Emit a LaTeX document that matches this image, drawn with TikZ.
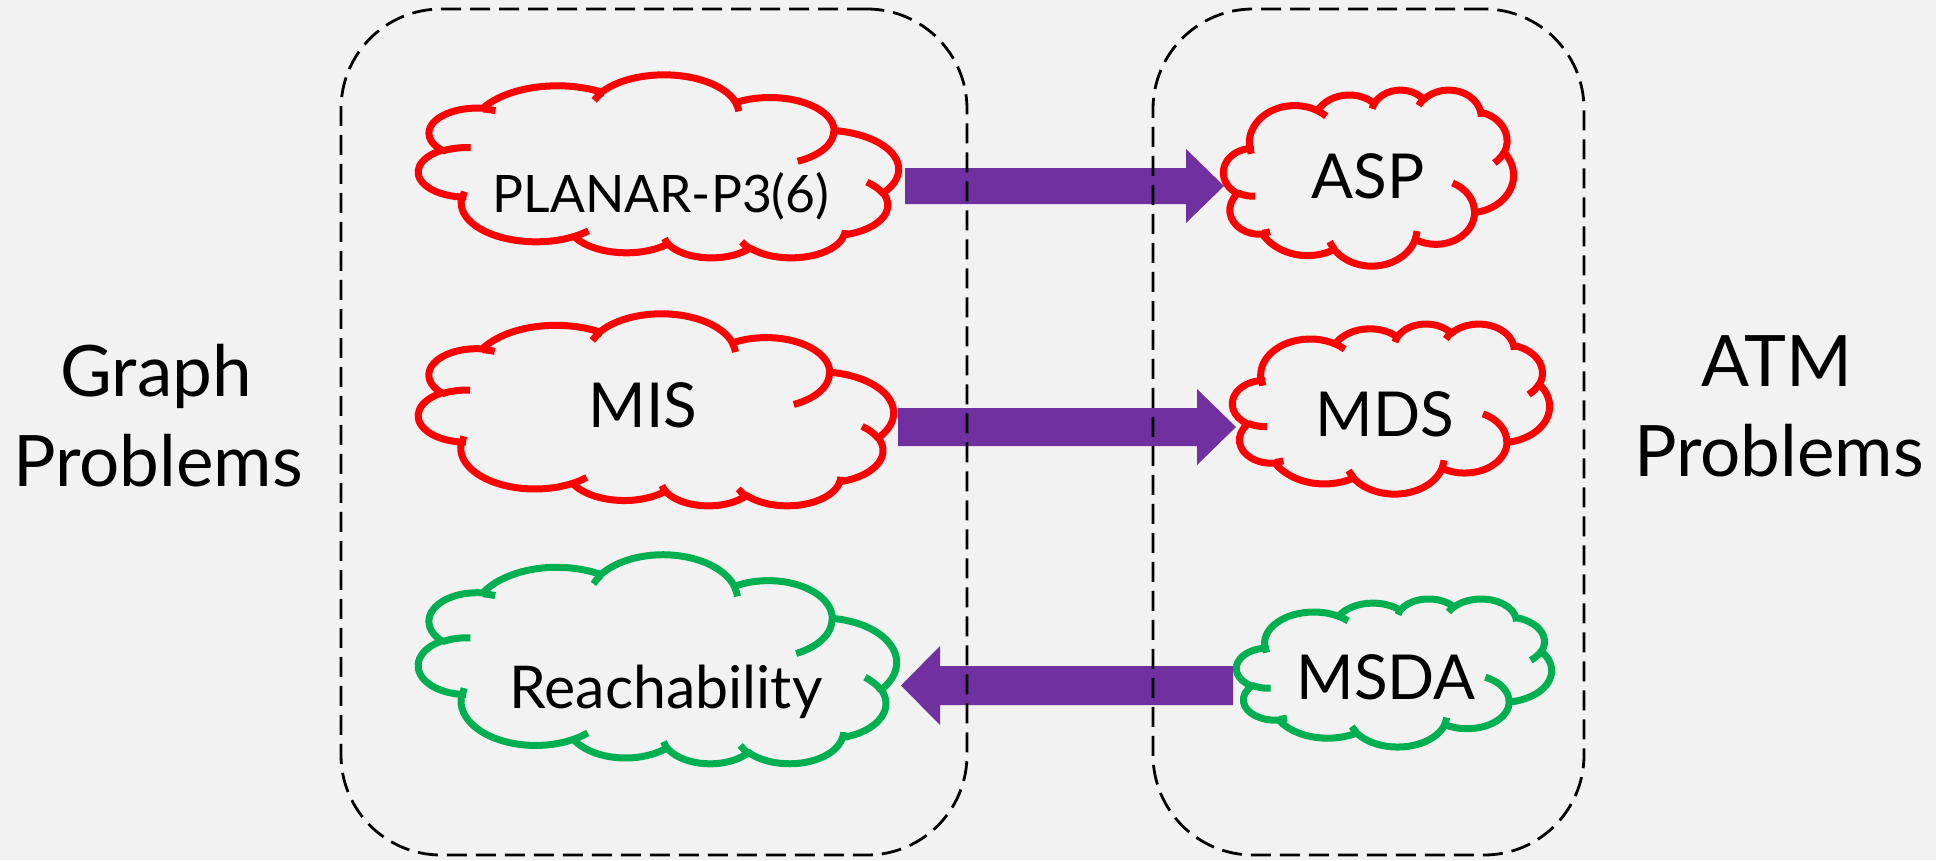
\documentclass[tikz,border=0pt]{standalone}
\usepackage{fontspec}
\setmainfont{Lato}
\usetikzlibrary{calc}

\definecolor{pagebg}{HTML}{F2F2F2}
\definecolor{probred}{HTML}{FF0000}
\definecolor{probgreen}{HTML}{00B050}
\definecolor{arrowpurple}{HTML}{7030A0}

% Elliptic arc of the cloud outline: the angles are given as true (polar)
% angles and are turned here into the parametric angles TikZ expects.
% #1 key name, #2 x radius, #3 y radius, #4 start angle, #5 sweep
\newcommand\defcloudarc[5]{%
  \pgfmathsetmacro\cloudS{atan2((#2)*sin(#4),(#3)*cos(#4))}%
  \pgfmathsetmacro\cloudE{atan2((#2)*sin((#4)+(#5)),(#3)*cos((#4)+(#5)))}%
  \pgfmathsetmacro\cloudD{\cloudE-\cloudS}%
  \pgfmathsetmacro\cloudD{\cloudD+360*round(((#5)-\cloudD)/360)}%
  \tikzset{#1/.estyle={start angle=\cloudS, delta angle=\cloudD,
                       x radius=#2, y radius=#3}}%
}
% outline lobes
\defcloudarc{ca1}{67.53}{91.90}{-190.4875}{123.7805}
\defcloudarc{ca2}{53.33}{72.67}{-144.1024}{89.9452}
\defcloudarc{ca3}{43.65}{59.45}{-145.8079}{99.7230}
\defcloudarc{ca4}{48.57}{65.95}{-130.9861}{117.2417}
\defcloudarc{ca5}{53.33}{72.73}{-78.7089}{109.0269}
\defcloudarc{ca6}{67.75}{92.20}{-46.2673}{130.2690}
\defcloudarc{ca7}{57.85}{78.67}{0.6250}{114.0333}
\defcloudarc{ca8}{67.52}{92.15}{22.4516}{115.1726}
\defcloudarc{ca9}{77.20}{105.43}{66.2426}{75.7110}
\defcloudarc{ca10}{43.60}{59.18}{-274.9421}{146.7356}
\defcloudarc{ca11}{43.45}{59.45}{-246.8285}{152.5189}
% inner hooks between the lobes
\defcloudarc{cb1}{43.45}{59.45}{86.7420}{26.4295}
\defcloudarc{cb2}{43.60}{59.18}{73.6105}{11.4475}
\defcloudarc{cb3}{67.52}{92.15}{137.6242}{14.0811}
\defcloudarc{cb4}{67.52}{92.15}{6.4533}{15.9984}
\defcloudarc{cb5}{57.85}{78.67}{-70.2924}{70.9174}
\defcloudarc{cb6}{53.33}{72.73}{30.3180}{27.7515}
\defcloudarc{cb7}{48.57}{65.95}{-13.7443}{14.8589}
\defcloudarc{cb8}{48.57}{65.95}{-149.1815}{18.1954}
\defcloudarc{cb9}{43.65}{59.45}{-163.4943}{17.6864}
\defcloudarc{cb10}{67.53}{91.90}{-66.7070}{12.3194}
\defcloudarc{cb11}{67.53}{91.90}{163.7360}{17.1527}

\tikzset{
  cloudline/.style={line width=7pt, line join=round},
  groupbox/.style={draw=black, line width=2.8pt, dash pattern=on 20pt off 9pt,
                   rounded corners=100pt, inner sep=0pt, fill=none},
  arrowfill/.style={fill=arrowpurple},
  sidetext/.style={font=\fontsize{71}{80}\selectfont, anchor=base, inner sep=0pt},
  cloudtext/.style={font=\fontsize{62}{70}\selectfont, anchor=base, inner sep=0pt},
}

% cloud in a box: left, top, width, height, colour,
% orientation (1 upright, -1 upside down)
\newcommand\drawcloud[6]{%
  \begin{scope}[shift={(#1,{#2+0.5*(1-(#6))*(#4)})},
                xscale=#3/432, yscale={(#6)*(#4)/432}]
    \draw[cloudline, draw=#5] (39,143.7) arc[ca1] arc[ca2] arc[ca3] arc[ca4]
      arc[ca5] arc[ca6] arc[ca7] arc[ca8] arc[ca9] arc[ca10] arc[ca11] -- cycle;
    \draw[cloudline, draw=#5]
      (46.93,261.77) arc[cb1]
      (69.28,348.99) arc[cb2]
      (164.78,390.90) arc[cb3]
      (288.27,347.51) arc[cb4]
      (341.29,229.54) arc[cb5]
      (417.98,153.54) arc[cb6]
      (383.24,54.26) arc[cb7]
      (290.78,39.52) arc[cb8]
      (221.41,47.20) arc[cb9]
      (140.00,51.92) arc[cb10]
      (41.27,157.89) arc[cb11];
  \end{scope}}

% block arrow: from, to, shaft half height, head half height, head length (signed)
\newcommand\blockarrow[5]{%
  \fill[arrowfill] ($(#1)+(0,-#3)$) -- ($(#2)+({-1*(#5)},-#3)$)
    -- ($(#2)+({-1*(#5)},-#4)$) -- (#2) -- ($(#2)+({-1*(#5)},#4)$)
    -- ($(#2)+({-1*(#5)},#3)$) -- ($(#1)+(0,#3)$) -- cycle;}

\begin{document}
\begin{tikzpicture}[x=1pt, y=-1pt]
  \useasboundingbox (0,0) rectangle (1936,860);
  \fill[pagebg] (0,0) rectangle (1936,860);

  % clouds
  \drawcloud{418.5}{75.5}{480}{183}{probred}{-1}
  \drawcloud{418.5}{314.5}{475}{192}{probred}{-1}
  \drawcloud{418.5}{555.5}{478}{209}{probgreen}{-1}
  \drawcloud{1223.5}{89.5}{290}{176}{probred}{1}
  \drawcloud{1232.5}{323.5}{317}{170}{probred}{1}
  \drawcloud{1236.5}{598.5}{315}{148}{probgreen}{1}

  % problem names
  \node[cloudtext, font=\fontsize{51.6}{60}\selectfont] (planar) at (661,212) {PLANAR-P3(6)};
  \node[cloudtext] (mis) at (643,427) {MIS};
  \node[cloudtext, font=\fontsize{59}{66}\selectfont] (reach) at (666,708) {Reachability};
  \node[cloudtext] (asp) at (1368,198) {ASP};
  \node[cloudtext] (mds) at (1385,436) {MDS};
  \node[cloudtext] (msda) at (1386,699) {MSDA};

  % side captions
  \node[sidetext] (graphA) at (156,396) {Graph};
  \node[sidetext] (graphB) at (158,486) {Problems};
  \node[sidetext] (atmA) at (1777,386) {ATM};
  \node[sidetext] (atmB) at (1779,476) {Problems};

  % arrow ends on the cloud rims
  \coordinate (planarR) at (905,186);
  \coordinate (aspL) at (1224,186);
  \coordinate (misR) at (898,427);
  \coordinate (mdsL) at (1236,427);
  \coordinate (msdaL) at (1233,685.5);
  \coordinate (reachR) at (901,685.5);

  \blockarrow{planarR}{aspL}{18}{37}{38}
  \blockarrow{misR}{mdsL}{19}{38}{39}
  \blockarrow{msdaL}{reachR}{19.5}{39.5}{-39}

  % dashed group frames
  \node[groupbox, minimum width=626pt, minimum height=846pt] (graphgroup) at (654,432) {};
  \node[groupbox, minimum width=431pt, minimum height=846pt] (atmgroup) at (1368.5,432) {};
\end{tikzpicture}
\end{document}
